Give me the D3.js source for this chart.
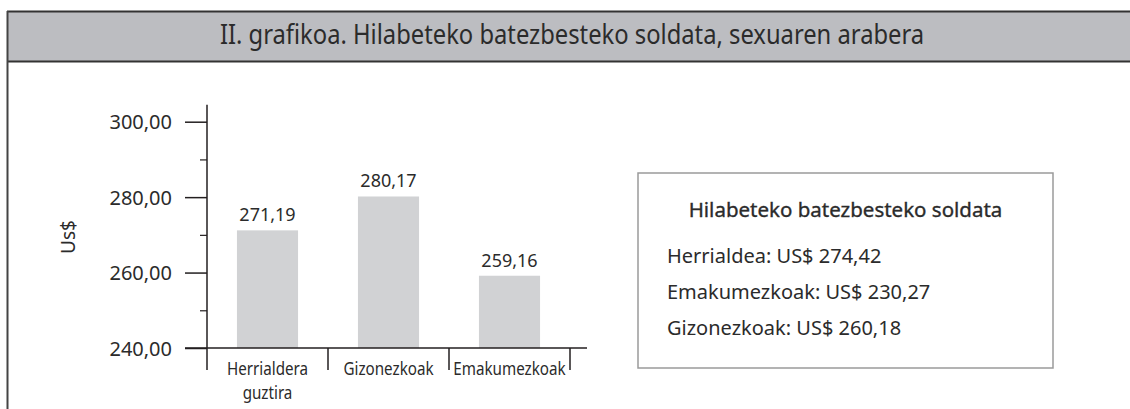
<!DOCTYPE html>
<html>
<head>
<meta charset="utf-8">
<script src="https://cdn.jsdelivr.net/npm/d3@7"></script>
<style>
  body { margin: 0; background: #fff; }
  svg { display: block; }
  .light { font-family: "Noto Sans", "Open Sans", sans-serif; fill: #2b2b2b; }
</style>
</head>
<body>
<svg id="svg" width="1130" height="409"></svg>
<script>
// chart data
let chartTitle = "II. grafikoa. Hilabeteko batezbesteko soldata, sexuaren arabera";
let categories = [["Herrialdera", "guztira"], ["Gizonezkoak"], ["Emakumezkoak"]];
let values = [271.19, 280.17, 259.16];
let majorTicks = [240, 260, 280, 300];
let minorTicks = [250, 270, 290];
let yLabel = "Us$";
let legendTitle = "Hilabeteko batezbesteko soldata";
let legendLines = ["Herrialdea: US$ 274,42", "Emakumezkoak: US$ 230,27", "Gizonezkoak: US$ 260,18"];

const locale = d3.formatLocale({ decimal: ",", thousands: ".", grouping: [3], currency: ["", ""] });
const fmt = locale.format(".2f");

let svg = d3.select("#svg");
const ink = "#231f20";

// title band
svg.append("rect")
  .attr("x", 7).attr("y", 11)
  .attr("width", 1130).attr("height", 51)
  .attr("fill", "#bcbdc1");
svg.append("line")
  .attr("x1", 7).attr("x2", 1130).attr("y1", 11.5).attr("y2", 11.5)
  .attr("stroke", "#333").attr("stroke-width", 2);
svg.append("line")
  .attr("x1", 7).attr("x2", 1130).attr("y1", 61.5).attr("y2", 61.5)
  .attr("stroke", "#333").attr("stroke-width", 2);
svg.append("line")
  .attr("x1", 7.5).attr("x2", 7.5).attr("y1", 11).attr("y2", 409)
  .attr("stroke", "#444").attr("stroke-width", 2);

svg.append("text")
  .attr("class", "light")
  .attr("transform", "translate(572,44) scale(0.88,1)")
  .attr("text-anchor", "middle")
  .attr("font-size", 27)
  .text(chartTitle);

// scales
let x = d3.scaleBand()
  .domain(d3.range(categories.length))
  .range([207, 570])
  .paddingInner(0)
  .paddingOuter(0);

let y = d3.scaleLinear()
  .domain([240, 300])
  .range([348, 121.7]);

let barW = x.bandwidth() * 0.505;

// bars
svg.selectAll(".bar")
  .data(values)
  .enter().append("rect")
  .attr("class", "bar")
  .attr("x", (d, i) => x(i) + (x.bandwidth() - barW) / 2)
  .attr("y", d => y(d))
  .attr("width", barW)
  .attr("height", d => y(240) - y(d))
  .attr("fill", "#d1d2d4");

// value labels
svg.selectAll(".val")
  .data(values)
  .enter().append("text")
  .attr("class", "val light")
  .attr("x", (d, i) => x(i) + x.bandwidth() / 2)
  .attr("y", d => y(d) - 9)
  .attr("text-anchor", "middle")
  .attr("font-size", 18)
  .text(d => fmt(d));

// y axis
let yAxis = svg.append("g")
  .attr("transform", "translate(207,0)")
  .call(d3.axisLeft(y).tickValues(majorTicks).tickSize(22).tickPadding(13).tickFormat(fmt));
yAxis.select(".domain").remove();
yAxis.selectAll("line").attr("stroke", ink).attr("stroke-width", 1.5);
yAxis.selectAll("text")
  .attr("class", "light")
  .attr("fill", "#2b2b2b")
  .attr("font-size", 20)
  .attr("dy", "0.36em");

let yMinor = svg.append("g")
  .attr("transform", "translate(207,0)")
  .call(d3.axisLeft(y).tickValues(minorTicks).tickSize(7).tickFormat(""));
yMinor.select(".domain").remove();
yMinor.selectAll("line").attr("stroke", ink).attr("stroke-width", 1.2);

// axis lines
svg.append("line")
  .attr("x1", 207).attr("x2", 207)
  .attr("y1", y(300) - 17).attr("y2", y(240) + 22)
  .attr("stroke", ink).attr("stroke-width", 1.5);
svg.append("line")
  .attr("x1", 185).attr("x2", x.range()[1] + 17)
  .attr("y1", y(240)).attr("y2", y(240))
  .attr("stroke", ink).attr("stroke-width", 1.5);

// category separators
svg.selectAll(".sep")
  .data(d3.range(1, categories.length + 1))
  .enter().append("line")
  .attr("class", "sep")
  .attr("x1", d => x.range()[0] + d * x.bandwidth())
  .attr("x2", d => x.range()[0] + d * x.bandwidth())
  .attr("y1", y(240)).attr("y2", y(240) + 22)
  .attr("stroke", ink).attr("stroke-width", 1.5);

// category labels (condensed look)
categories.forEach((lines, i) => {
  let cx = x(i) + x.bandwidth() / 2;
  let t = svg.append("text")
    .attr("class", "light")
    .attr("text-anchor", "middle")
    .attr("font-size", 19)
    .attr("transform", "translate(" + cx + ",375) scale(0.8,1)");
  lines.forEach((ln, j) => {
    t.append("tspan")
      .attr("x", 0)
      .attr("dy", j == 0 ? 0 : 24)
      .text(ln);
  });
});

// y label
svg.append("text")
  .attr("class", "light")
  .attr("transform", "translate(75,237) rotate(-90)")
  .attr("text-anchor", "middle")
  .attr("font-size", 19)
  .text(yLabel);

// info box
let box = svg.append("g");
box.append("rect")
  .attr("x", 638).attr("y", 173)
  .attr("width", 415).attr("height", 195)
  .attr("fill", "none")
  .attr("stroke", "#9a9a9a")
  .attr("stroke-width", 1.5);
box.append("text")
  .attr("class", "light")
  .attr("x", 845.5).attr("y", 217)
  .attr("text-anchor", "middle")
  .attr("font-size", 20.5)
  .attr("stroke", "#2b2b2b").attr("stroke-width", 0.35)
  .text(legendTitle);
box.selectAll(".leg")
  .data(legendLines)
  .enter().append("text")
  .attr("class", "leg light")
  .attr("x", 667)
  .attr("y", (d, i) => 263 + i * 36)
  .attr("font-size", 20)
  .text(d => d);
</script>
</body>
</html>
